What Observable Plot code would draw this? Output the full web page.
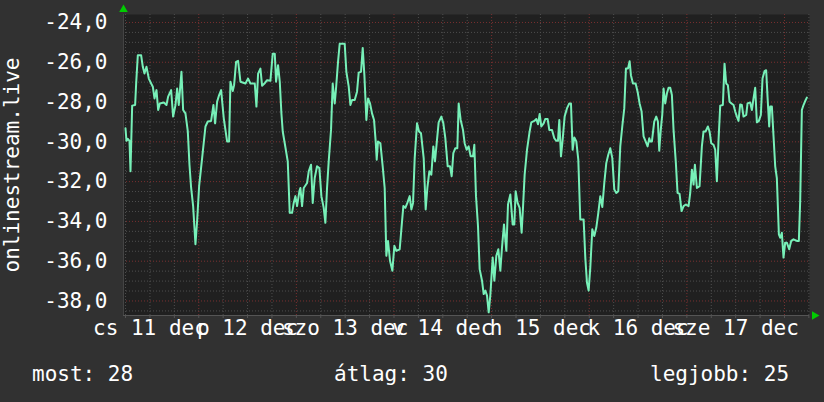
<!DOCTYPE html>
<html><head><meta charset="utf-8">
<script src="https://cdn.jsdelivr.net/npm/d3@7"></script>
<script src="https://cdn.jsdelivr.net/npm/@observablehq/plot@0.6"></script>
<style>
html,body{margin:0;padding:0;background:#313131;}
body{width:824px;height:402px;overflow:hidden;font-family:"DejaVu Sans Mono",monospace;color:#fff;}
#legend{position:relative;height:57px;font-size:21px;line-height:21px;}
#legend span{position:absolute;top:19px;white-space:pre;}
</style></head><body>
<div id="chart"></div>
<div id="legend"></div>
<script>
// hours since 11 Dec 00:00
const hours = [
5.99,6.23,6.56,6.97,7.22,7.63,8.36,8.61,9.02,9.84,10.25,10.66,11.15,11.72,12.30,12.71,13.12,13.61,14.02,14.43,
15.41,16.06,16.47,17.21,17.70,18.28,18.69,19.09,19.75,20.16,20.73,21.31,21.72,22.13,22.62,23.19,23.6,24.09,24.83,25.65,
26.22,27.04,27.61,28.02,28.52,29.01,29.5,30.15,30.97,31.46,31.79,32.36,32.69,33.18,33.67,34.25,35.48,36.13,36.71,37.77,
38.18,38.59,39.16,39.57,40.15,40.8,41.62,42.19,42.69,43.01,43.5,43.92,44.32,44.65,45.14,45.88,46.37,46.95,47.35,47.76,
48.17,48.75,48.99,49.4,49.81,50.63,51.04,51.61,52.02,52.51,53.08,53.66,54.15,54.72,55.13,55.54,55.95,56.52,56.93,57.43,
57.75,58.24,58.65,59.88,60.29,60.87,61.28,61.69,62.34,62.91,63.32,63.9,64.31,64.72,65.21,65.62,66.11,66.6,67.09,67.5,
67.75,68.07,68.65,69.22,69.71,70.12,70.53,71.02,71.6,72.09,72.58,73.4,73.81,74.3,74.79,75.28,75.86,76.27,76.68,77.09,
77.66,78.15,78.64,79.3,79.79,80.2,80.69,81.18,81.67,82.08,82.57,82.98,83.64,84.13,84.62,85.2,85.77,86.18,86.59,87.08,
87.57,87.9,88.39,88.96,89.37,89.86,90.35,90.85,91.42,91.75,92.16,92.65,93.06,93.64,94.05,94.46,94.87,95.28,95.68,96.26,
96.67,97.16,97.65,98.14,98.55,99.04,99.62,100.03,100.6,101.17,101.58,101.91,102.4,102.89,103.38,103.71,104.12,104.7,105.35,105.76,
106.5,106.99,107.4,107.81,108.22,108.79,109.2,109.77,110.18,110.84,111.41,111.9,112.31,112.64,113.05,113.46,113.95,114.52,115.1,115.51,
115.92,116.33,116.82,117.31,117.8,118.62,119.03,119.44,119.85,120.26,120.75,121.24,121.73,122.23,122.72,123.21,123.7,124.19,124.68,125.17,
125.67,126.16,126.65,127.14,127.63,128.12,128.61,129.02,129.52,129.93,130.25,130.74,131.4,131.89,132.38,132.87,133.36,133.86,134.35,134.76,
135.0,135.41,135.98,136.47,136.88,137.21,137.62,137.95,138.27,138.68,139.09,139.5,139.91,140.32,140.73,141.3,141.71,142.21,142.7,143.19,
143.76,144.42,144.83,145.24,145.65,145.97,146.47,147.12,147.69,148.1,148.6,149.17,149.58,149.99,150.56,150.97,151.38,151.79,152.2,152.85,
153.26,153.67,154.08,154.49,154.98,155.48,155.89,156.3,156.7,157.11,157.52,157.93,158.59,158.92,159.57,159.98,160.39,160.8,161.21,161.7,
162.19,162.6,163.09,163.5,163.83,164.24,164.49,164.9,165.31,165.72,166.12,166.62,166.94,167.35,167.76,168.17,168.58,169.15,169.65,170.22,
171.04,171.53,171.86,172.27,172.68,173.09,173.5
];
const values = [
-29.32,-29.95,-29.85,-29.95,-31.48,-28.18,-28.15,-27.07,-25.65,-25.65,-26.23,-26.57,-26.23,-26.82,-27.07,-27.23,-27.82,-27.4,-28.4,-28.07,
-28.02,-28.15,-27.73,-27.4,-28.73,-28.15,-27.32,-28.15,-26.48,-28.4,-28.57,-29.48,-31.15,-32.32,-33.23,-35.15,-33.98,-32.23,-30.82,-29.23,
-28.98,-28.95,-28.15,-29.07,-27.98,-27.65,-27.4,-28.82,-29.98,-29.98,-26.98,-27.45,-27.15,-25.98,-25.93,-26.98,-27.07,-26.82,-27.07,-27.07,
-28.23,-26.57,-26.32,-27.18,-27.07,-26.9,-26.93,-25.57,-25.57,-26.98,-26.15,-26.98,-28.57,-29.48,-30.07,-30.98,-33.57,-33.57,-33.07,-32.73,
-33.23,-32.48,-32.32,-33.23,-32.32,-32.07,-31.48,-31.15,-33.07,-31.82,-31.23,-31.32,-32.73,-33.32,-34.07,-32.32,-30.98,-29.4,-27.07,-28.07,
-27.32,-25.98,-25.07,-25.07,-26.48,-27.23,-28.15,-27.9,-27.9,-27.48,-26.52,-26.48,-25.28,-26.65,-28.9,-27.82,-28.07,-28.57,-28.9,-29.98,
-30.9,-29.98,-30.07,-31.23,-32.32,-35.73,-34.98,-35.98,-36.48,-35.23,-35.48,-35.4,-34.4,-33.23,-33.32,-33.07,-32.73,-33.4,-33.07,-30.82,
-29.07,-29.48,-29.57,-30.82,-33.4,-32.32,-31.48,-31.65,-30.23,-30.98,-29.9,-29.02,-28.73,-29.07,-29.82,-31.23,-31.23,-31.73,-30.57,-30.32,
-30.32,-28.07,-28.9,-29.4,-30.07,-30.4,-30.23,-30.73,-30.73,-30.15,-32.73,-34.23,-36.4,-36.98,-37.65,-37.48,-37.73,-38.57,-37.73,-35.82,
-36.98,-35.73,-35.4,-36.48,-35.32,-34.15,-35.48,-33.15,-32.65,-34.15,-34.15,-32.48,-33.07,-33.32,-34.57,-33.32,-31.65,-30.4,-29.48,-29.02,
-28.95,-28.85,-29.12,-28.6,-29.23,-29.07,-28.85,-28.85,-29.4,-29.4,-29.82,-29.95,-29.95,-28.9,-30.73,-29.9,-28.73,-28.32,-28.07,-28.07,
-30.4,-29.78,-29.98,-30.9,-33.9,-33.9,-35.82,-37.07,-37.48,-36.32,-34.4,-34.73,-34.32,-33.57,-32.73,-33.28,-32.07,-31.07,-30.65,-30.32,
-30.82,-32.4,-32.57,-32.48,-30.23,-29.23,-28.32,-26.32,-26.32,-25.95,-26.65,-27.07,-27.07,-27.48,-28.07,-28.48,-29.73,-29.98,-30.23,-29.82,
-29.98,-29.98,-28.98,-28.73,-28.98,-30.45,-29.32,-28.65,-27.32,-28.07,-27.57,-27.28,-27.28,-27.65,-29.4,-31.07,-32.57,-32.62,-33.48,-33.23,
-33.15,-33.23,-32.57,-31.4,-32.15,-31.15,-32.32,-32.23,-30.23,-29.48,-29.48,-29.23,-29.48,-30.07,-30.15,-30.4,-31.98,-29.9,-28.18,-28.15,
-26.07,-27.07,-27.15,-27.98,-28.07,-28.15,-28.48,-28.73,-28.95,-28.12,-28.15,-28.73,-28.65,-28.07,-28.02,-28.4,-27.82,-27.28,-29.02,-28.95,
-28.65,-26.82,-26.45,-26.4,-27.73,-29.23,-28.23,-28.23,-29.73,-31.23,-31.82,-34.65,-34.82,-34.57,-35.82,-35.07,-35.07,-35.4,-34.98,-34.9,
-34.98,-34.98,-32.98,-28.4,-28.15,-27.95,-27.78
];
const yTicks = [-38, -36, -34, -32, -30, -28, -26, -24];
const dayLabelHours = [12, 36, 60, 84, 108, 132, 156];
const dayLabels = ["cs 11 dec", "p 12 dec", "szo 13 dec", "v 14 dec", "h 15 dec", "k 16 dec", "sze 17 dec"];
const midnightHours = [24, 48, 72, 96, 120, 144, 168];
const xDomain = [5.5, 174.15];
const yDomain = [-38.73, -23.6];
const yLabel = "onlinestream.live";
const legendNames = ["most", "átlag", "legjobb"];
const legendValues = [28, 30, 25];

const data = hours.map((h, i) => ({h, v: values[i]}));
const minorX = d3.range(6, 175, 6).filter(h => h % 24 !== 0);
const minorY = d3.range(-38.5, -23.5, 0.5).filter(v => Math.abs(v % 2) !== 0);
const fmt = d => d.toFixed(1).replace(".", ",");

const font = "DejaVu Sans Mono, monospace";
const chart = Plot.plot({
  width: 824,
  height: 345,
  marginLeft: 123,
  marginRight: 15,
  marginTop: 14,
  marginBottom: 30,
  style: {background: "transparent", color: "#fff", fontFamily: font, fontSize: "21px"},
  x: {type: "linear", domain: xDomain, axis: null},
  y: {type: "linear", domain: yDomain, axis: null},
  marks: [
    Plot.frame({fill: "#202020", stroke: null}),
    Plot.ruleY(minorY, {stroke: "#4e4e4e", strokeDasharray: "1,2"}),
    Plot.ruleX(minorX, {stroke: "#4e4e4e", strokeDasharray: "1,2"}),
    Plot.ruleY(yTicks, {stroke: "#7a3030", strokeDasharray: "1,2"}),
    Plot.ruleX(midnightHours, {stroke: "#7a3030", strokeDasharray: "1,2"}),
    Plot.ruleY([yDomain[0]], {stroke: "#555"}),
    Plot.ruleX([xDomain[0]], {stroke: "#444"}),
    Plot.axisX(minorX.concat(midnightHours), {tickSize: 3, stroke: "#555", tickFormat: () => "", label: null}),
    Plot.line(data, {x: "h", y: "v", stroke: "#77f0b8", strokeWidth: 2}),
    Plot.axisY(yTicks, {tickSize: 0, tickPadding: 16, tickFormat: fmt, label: null, fill: "#fff", fontSize: 21}),
    Plot.axisX(dayLabelHours, {tickSize: 0, tickPadding: 5, tickFormat: d => dayLabels[dayLabelHours.indexOf(d)], label: null, fill: "#fff", fontSize: 21}),
    Plot.text([yLabel], {frameAnchor: "left", textAnchor: "middle", rotate: -90, dx: -111, fontSize: 21, fill: "#fff"}),
    Plot.dot([0], {x: () => xDomain[0], y: () => yDomain[1], symbol: "triangle", r: 3.2, fill: "#00cc00", dy: -5}),
    Plot.dot([0], {x: () => xDomain[1], y: () => yDomain[0], symbol: "triangle", r: 3.2, fill: "#00cc00", rotate: 90, dx: 5})
  ]
});
document.getElementById("chart").appendChild(chart);

const legend = document.getElementById("legend");
const legendLeft = [32, 334, 650];
legendNames.forEach((n, i) => {
  const s = document.createElement("span");
  s.textContent = `${n}: ${legendValues[i]}`;
  s.style.left = legendLeft[i] + "px";
  legend.appendChild(s);
});
</script>
</body></html>
